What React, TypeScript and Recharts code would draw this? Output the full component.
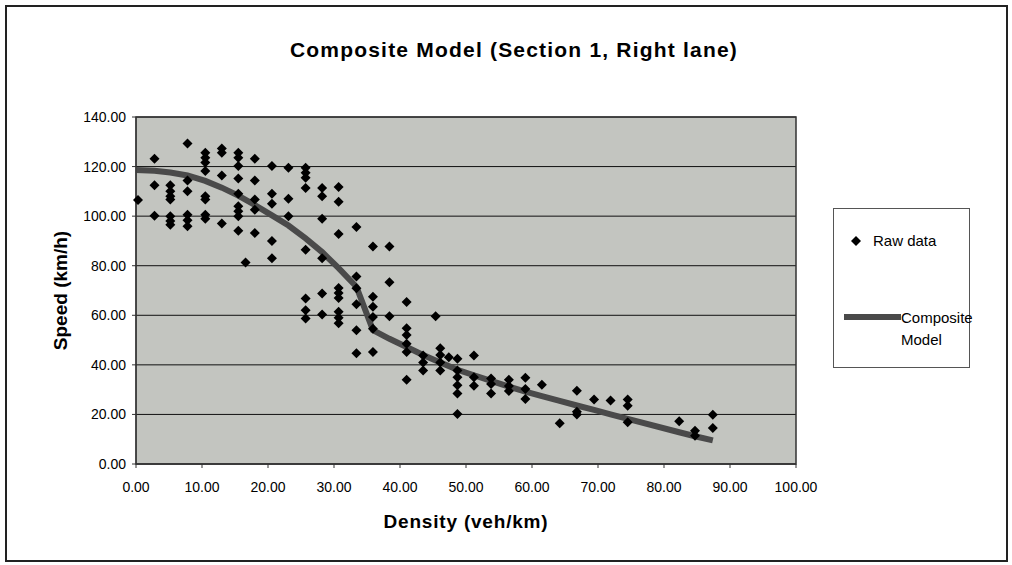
import {
  ComposedChart,
  Scatter,
  Line,
  XAxis,
  YAxis,
  CartesianGrid,
  Legend,
  ReferenceArea
} from "recharts";

const xTicks = [0, 10, 20, 30, 40, 50, 60, 70, 80, 90, 100];
const yTicks = [0, 20, 40, 60, 80, 100, 120, 140];

// raw observations, read column by column
const rawDensity = [
  0.3,
  2.8, 2.8, 2.8,
  5.2, 5.2, 5.2, 5.2, 5.2, 5.2, 5.2,
  7.8, 7.8, 7.8, 7.8, 7.8, 7.8,
  10.5, 10.5, 10.5, 10.5, 10.5, 10.5, 10.5, 10.5,
  13, 13, 13, 13,
  15.5, 15.5, 15.5, 15.5, 15.5, 15.5, 15.5, 15.5, 15.5,
  16.6,
  18, 18, 18, 18, 18,
  20.6, 20.6, 20.6, 20.6, 20.6,
  23.1, 23.1, 23.1,
  25.7, 25.7, 25.7, 25.7, 25.7, 25.7, 25.7, 25.7,
  28.2, 28.2, 28.2, 28.2, 28.2, 28.2,
  30.7, 30.7, 30.7, 30.7, 30.7, 30.7, 30.7, 30.7, 30.7,
  33.4, 33.4, 33.4, 33.4, 33.4, 33.4,
  35.9, 35.9, 35.9, 35.9, 35.9, 35.9,
  38.4, 38.4, 38.4,
  41, 41, 41, 41, 41, 41,
  43.5, 43.5, 43.5,
  45.4,
  46.1, 46.1, 46.1, 46.1,
  47.4,
  48.7, 48.7, 48.7, 48.7, 48.7, 48.7,
  51.2, 51.2, 51.2,
  53.8, 53.8, 53.8,
  56.5, 56.5, 56.5,
  59, 59, 59,
  61.5,
  64.2,
  66.8, 66.8, 66.8,
  69.4,
  71.9,
  74.5, 74.5, 74.5,
  82.3,
  84.7, 84.7,
  87.4, 87.4
];

const rawSpeed = [
  106.5,
  123.2, 112.5, 100.2,
  112.5, 110, 108, 106.7, 100, 98, 96.5,
  129.3, 114.4, 110, 100.6, 98.3, 95.9,
  125.6, 123.6, 121.6, 118.2, 108, 106.7, 100.6, 98.9,
  127.3, 125.6, 116.4, 97,
  125.6, 123.6, 120.2, 115.2, 109, 104, 102, 100, 94.1,
  81.3,
  123.2, 114.4, 106.7, 102.6, 93.2,
  120.2, 109, 105, 90, 83,
  119.5, 107, 100,
  119.5, 117.5, 115.5, 111.4, 86.4, 66.8, 62, 58.7,
  111.4, 108, 98.9, 83, 68.8, 60.3,
  111.8, 105.8, 92.8, 71, 69, 67, 61.4, 59, 56.8,
  95.6, 75.6, 70.9, 64.5, 54, 44.7,
  87.8, 67.5, 63.4, 59.3, 54.6, 45.2,
  87.8, 73.3, 59.6,
  65.4, 54.8, 52, 48.5, 45.2, 34,
  43.8, 41, 37.7,
  59.6,
  46.7, 44, 41, 37.7,
  43.1,
  42.5, 37.7, 35, 31.8, 28.4, 20.2,
  43.8, 35, 31.6,
  34.5, 32.3, 28.4,
  34, 31.5, 29.5,
  34.8, 30.3, 26.2,
  32,
  16.4,
  29.6, 21.1, 20,
  26,
  25.6,
  26, 23.5, 16.8,
  17.2,
  13.4, 11.4,
  19.9, 14.5
];

// composite model curve
const modelDensity = [
  0, 2.8, 5.2, 7.8, 10.5, 13, 15.5, 18, 20.6, 23.1, 25.7, 28.2, 30.7, 33.4,
  35.9, 38.4, 41, 43.5, 46.1, 48.7, 51.2, 53.8, 56.5, 59, 61.5, 64.2, 66.8,
  69.4, 71.9, 74.5, 82.3, 84.7, 87.4
];
const modelSpeed = [
  118.6, 118.3, 117.6, 116.4, 114.2, 111.5, 108.3, 104.5, 100.3, 96.2, 91,
  85.5, 79, 71.5, 54, 50.5, 47.2, 44, 41, 38, 35.8, 33.5, 31.2, 29.2, 27.4,
  25.5, 23.6, 21.8, 20, 18.2, 12.8, 11.2, 9.5
];

const rawData = rawDensity.map((d, i) => ({ density: d, speed: rawSpeed[i] }));
const modelData = modelDensity.map((d, i) => ({ density: d, speed: modelSpeed[i] }));

const font = "'Liberation Sans', Arial, sans-serif";

const Diamond = (props: any) => {
  const { cx, cy } = props;
  if (cx == null || cy == null) return null;
  const r = 5;
  return (
    <path
      d={`M${cx},${cy - r}L${cx + r},${cy}L${cx},${cy + r}L${cx - r},${cy}Z`}
      fill="#000"
    />
  );
};

const LegendBox = () => (
  <div
    style={{
      width: 137,
      height: 160,
      border: "1px solid #555",
      boxSizing: "border-box",
      background: "#fff",
      fontFamily: font,
      fontSize: 15,
      color: "#000",
      position: "relative",
      textAlign: "left"
    }}
  >
    <svg width={135} height={158} style={{ position: "absolute", left: 0, top: 0 }}>
      <path d="M22,27L27,32L22,37L17,32Z" fill="#000" />
      <line x1={10} y1={108} x2={67} y2={108} stroke="#4a4a4a" strokeWidth={6} />
    </svg>
    <div style={{ position: "absolute", left: 39, top: 23 }}>Raw data</div>
    <div style={{ position: "absolute", left: 67, top: 98, lineHeight: "22px" }}>
      Composite
      <br />
      Model
    </div>
  </div>
);

export default function App() {
  return (
    <div
      style={{
        position: "absolute",
        left: 0,
        top: 0,
        width: 1012,
        height: 565,
        background: "#fff"
      }}
    >
      <div
        style={{
          position: "absolute",
          left: 5,
          top: 5,
          width: 1003,
          height: 557,
          border: "2px solid #222",
          boxSizing: "border-box"
        }}
      />
      <div
        style={{
          position: "absolute",
          left: 0,
          top: 38,
          width: 1028,
          textAlign: "center",
          fontFamily: font,
          fontWeight: "bold",
          fontSize: 21,
          letterSpacing: 1.2
        }}
      >
        Composite Model (Section 1, Right lane)
      </div>
      <div style={{ position: "absolute", left: 0, top: 0 }}>
        <ComposedChart
          width={1012}
          height={565}
          margin={{ top: 117, right: 79, bottom: 61, left: 60 }}
        >
          <CartesianGrid
            horizontal
            vertical={false}
            fill="#c3c5c0"
            stroke="#111"
            strokeWidth={1}
          />
          <ReferenceArea
            x1={0}
            x2={100}
            y1={0}
            y2={140}
            fill="none"
            stroke="#333"
            strokeWidth={1.5}
            ifOverflow="visible"
          />
          <XAxis
            type="number"
            dataKey="density"
            domain={[0, 100]}
            ticks={xTicks}
            interval={0}
            height={40}
            tickSize={4}
            tickMargin={14}
            tickFormatter={(v: number) => v.toFixed(2)}
            tick={{ fill: "#000", fontSize: 14, fontFamily: font }}
            axisLine={{ stroke: "#333" }}
            tickLine={{ stroke: "#333" }}
            label={{
              content: ({ viewBox }: any) => (
                <text
                  x={viewBox.x + viewBox.width / 2}
                  y={viewBox.y + 64}
                  textAnchor="middle"
                  fontFamily={font}
                  fontWeight="bold"
                  fontSize={19}
                  letterSpacing={0.8}
                  fill="#000"
                >
                  Density (veh/km)
                </text>
              )
            }}
          />
          <YAxis
            type="number"
            dataKey="speed"
            domain={[0, 140]}
            ticks={yTicks}
            interval={0}
            width={76}
            tickSize={4}
            tickMargin={6}
            tickFormatter={(v: number) => v.toFixed(2)}
            tick={{ fill: "#000", fontSize: 14, fontFamily: font }}
            axisLine={{ stroke: "#333" }}
            tickLine={{ stroke: "#333" }}
            label={{
              content: ({ viewBox }: any) => {
                const cx = 67;
                const cy = viewBox.y + viewBox.height / 2;
                return (
                  <text
                    x={cx}
                    y={cy}
                    transform={`rotate(-90 ${cx} ${cy})`}
                    textAnchor="middle"
                    fontFamily={font}
                    fontWeight="bold"
                    fontSize={19}
                    fill="#000"
                  >
                    Speed (km/h)
                  </text>
                );
              }
            }}
          />
          <Line
            data={modelData}
            dataKey="speed"
            type="linear"
            stroke="#4a4a4a"
            strokeWidth={6}
            dot={false}
            activeDot={false}
            legendType="line"
            name="Composite Model"
            isAnimationActive={false}
          />
          <Scatter
            data={rawData}
            dataKey="speed"
            name="Raw data"
            shape={Diamond}
            isAnimationActive={false}
          />
          <Legend
            layout="vertical"
            align="right"
            verticalAlign="middle"
            content={() => <LegendBox />}
            wrapperStyle={{ position: "absolute", left: 833, top: 208, width: 137, height: 160 }}
          />
        </ComposedChart>
      </div>
    </div>
  );
}
